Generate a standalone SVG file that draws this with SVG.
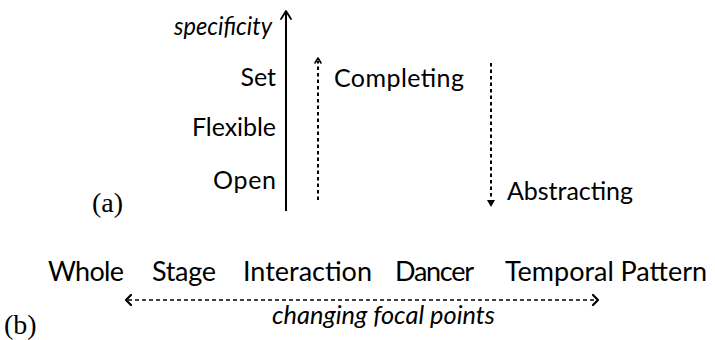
<svg xmlns="http://www.w3.org/2000/svg" width="715" height="340" viewBox="0 0 715 340">
<style>
.t{font-family:Lato,"Open Sans","DejaVu Sans",sans-serif;font-size:25px;fill:#000}
.tb{font-family:Lato,"Open Sans","DejaVu Sans",sans-serif;font-size:27px;fill:#000}
.i{font-style:italic;font-size:25.5px}
.s{font-family:"Liberation Serif","DejaVu Serif",serif;font-size:28px;fill:#000}
.ln{fill:none;stroke:#000}
.hd{fill:none;stroke:#000;stroke-linecap:round;stroke-linejoin:round}
</style>
<g id="connectors">
  <g id="specificity-axis">
    <line class="ln" x1="286" y1="211" x2="286" y2="12" stroke-width="2"/>
    <polyline class="hd" points="281,19 286,11 291,19" stroke-width="1.8"/>
  </g>
  <g id="completing-arrow">
    <line class="ln" x1="318" y1="200" x2="318" y2="61" stroke-width="2" stroke-dasharray="3.5,3"/>
    <polyline class="hd" points="315,63 318,58 321,63" stroke-width="1.6"/>
  </g>
  <g id="abstracting-arrow">
    <line class="ln" x1="491" y1="63" x2="491" y2="199" stroke-width="2" stroke-dasharray="3.5,3"/>
    <polygon points="487,200 495,200 491,207" fill="#000"/>
  </g>
  <g id="focal-arrow">
    <line class="ln" x1="128" y1="300" x2="597" y2="300" stroke-width="1.6" stroke-dasharray="4,3"/>
    <polyline class="hd" points="131,295 126,300 131,305" stroke-width="2.2"/>
    <polyline class="hd" points="593,295 598,300 593,305" stroke-width="2.2"/>
  </g>
</g>
<g id="specificity"><text class="t i" x="272" y="35" text-anchor="end" textLength="98" lengthAdjust="spacingAndGlyphs">specificity</text></g>
<g id="set"><text class="t" x="276" y="86" text-anchor="end">Set</text></g>
<g id="flexible"><text class="t" x="276" y="136" text-anchor="end" textLength="84">Flexible</text></g>
<g id="open"><text class="t" x="276" y="189" text-anchor="end" textLength="63">Open</text></g>
<g id="label-a"><text class="s" x="92" y="212">(a)</text></g>
<g id="completing"><text class="t" x="334" y="87" textLength="130">Completing</text></g>
<g id="abstracting"><text class="t" x="507" y="200" textLength="126">Abstracting</text></g>
<g id="whole"><text class="tb" x="48" y="281" textLength="76">Whole</text></g>
<g id="stage"><text class="tb" x="152" y="281" textLength="64">Stage</text></g>
<g id="interaction"><text class="tb" x="243" y="281" textLength="129">Interaction</text></g>
<g id="dancer"><text class="tb" x="395" y="281" textLength="79">Dancer</text></g>
<g id="temporal-pattern"><text class="tb" x="505" y="281" textLength="202">Temporal Pattern</text></g>
<g id="focal-label"><text class="t i" x="272" y="324" textLength="223" lengthAdjust="spacingAndGlyphs">changing focal points</text></g>
<g id="label-b"><text class="s" x="4" y="334">(b)</text></g>
</svg>
